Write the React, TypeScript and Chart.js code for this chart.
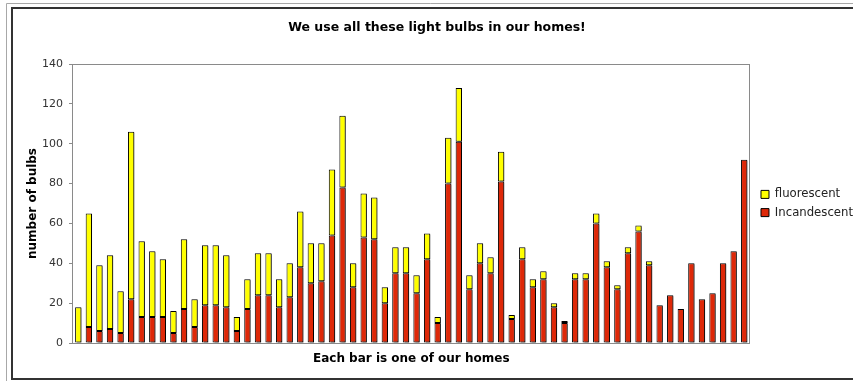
import React, { useEffect, useRef } from "react";
import { Chart, registerables } from "chart.js";

Chart.register(...registerables);

const homes: string[] = Array.from({ length: 64 }, (_, i) => String(i + 1));

const incandescent: number[] = [
  0, 8, 6, 7, 5, 22, 13, 13, 13, 5, 17, 8, 19, 19, 18, 6,
  17, 24, 24, 18, 23, 38, 30, 31, 54, 78, 28, 53, 52, 20, 35, 35,
  25, 42, 10, 80, 101, 27, 40, 35, 81, 12, 42, 28, 32, 18, 10, 32,
  32, 60, 38, 27, 45, 56, 39, 19, 24, 17, 40, 22, 25, 40, 46, 92,
];

const fluorescent: number[] = [
  18, 57, 33, 37, 21, 84, 38, 33, 29, 11, 35, 14, 30, 30, 26, 7,
  15, 21, 21, 14, 17, 28, 20, 19, 33, 36, 12, 22, 21, 8, 13, 13,
  9, 13, 3, 23, 27, 7, 10, 8, 15, 2, 6, 4, 4, 2, 1, 3,
  3, 5, 3, 2, 3, 3, 2, 0, 0, 0, 0, 0, 0, 0, 0, 0,
];

const yTicks: number[] = [0, 20, 40, 60, 80, 100, 120, 140];

const TITLE = "We use all these light bulbs in our homes!";
const X_TITLE = "Each bar is one of our homes";
const Y_TITLE = "number of bulbs";

const FONT = "'DejaVu Sans', Verdana, sans-serif";
const RED = "#DE2808";
const YELLOW = "#FFFF00";

export default function App() {
  const ref = useRef<HTMLCanvasElement | null>(null);

  useEffect(() => {
    document.body.style.margin = "0";
    const canvas = ref.current;
    if (!canvas) return;

    const framePlugin = {
      id: "frame",
      afterLayout(chart: any) {
        if (chart.legend) {
          chart.legend.left += 5;
          chart.legend.right += 5;
        }
      },
      beforeDraw(chart: any) {
        const ctx = chart.ctx;
        ctx.save();
        ctx.fillStyle = "#ffffff";
        ctx.fillRect(0, 0, chart.width, chart.height);
        ctx.strokeStyle = "#a8a8a8";
        ctx.lineWidth = 1;
        ctx.beginPath();
        ctx.moveTo(6.5, chart.height + 5);
        ctx.lineTo(6.5, 3.5);
        ctx.lineTo(chart.width + 5, 3.5);
        ctx.stroke();
        ctx.strokeStyle = "#333333";
        ctx.lineWidth = 2;
        ctx.beginPath();
        ctx.moveTo(chart.width + 5, 8);
        ctx.lineTo(12, 8);
        ctx.lineTo(12, 379);
        ctx.lineTo(chart.width + 5, 379);
        ctx.stroke();
        ctx.restore();
      },
      beforeDatasetsDraw(chart: any) {
        const { ctx, chartArea } = chart;
        ctx.save();
        ctx.strokeStyle = "#8a8a8a";
        ctx.lineWidth = 1;
        ctx.strokeRect(
          Math.round(chartArea.left) - 0.5,
          Math.round(chartArea.top) + 0.5,
          Math.round(chartArea.right - chartArea.left) + 1,
          Math.round(chartArea.bottom - chartArea.top)
        );
        ctx.restore();
      },
    };

    const shadowPlugin = {
      id: "barShadow",
      beforeDatasetsDraw(chart: any) {
        const ctx = chart.ctx;
        ctx.save();
        ctx.shadowColor = "rgba(0,0,0,0.45)";
        ctx.shadowOffsetX = 2;
        ctx.shadowOffsetY = 1;
        ctx.shadowBlur = 0;
      },
      afterDatasetsDraw(chart: any) {
        chart.ctx.restore();
      },
    };

    const chart = new Chart(canvas, {
      type: "bar",
      data: {
        labels: homes,
        datasets: [
          {
            label: "Incandescent",
            data: incandescent,
            backgroundColor: RED,
            borderColor: "#000000",
            borderWidth: 1,
            borderSkipped: false,
          },
          {
            label: "fluorescent",
            data: fluorescent,
            backgroundColor: YELLOW,
            borderColor: "#000000",
            borderWidth: 1,
            borderSkipped: false,
          },
        ],
      },
      options: {
        responsive: false,
        animation: false,
        layout: { padding: { left: 16, right: -5, top: 0, bottom: 0 } },
        datasets: {
          bar: { categoryPercentage: 1, barPercentage: 0.6 },
        },
        plugins: {
          title: {
            display: true,
            text: TITLE,
            color: "#000000",
            font: { family: FONT, size: 12.5, weight: "bold" },
            padding: { top: 20.5, bottom: 28.5 },
          },
          legend: {
            position: "right",
            fullSize: false,
            reverse: true,
            labels: {
              boxWidth: 8,
              boxHeight: 8,
              padding: 6.5,
              color: "#222222",
              font: { family: FONT, size: 11.7 },
            },
          },
          tooltip: { enabled: false },
        },
        scales: {
          x: {
            stacked: true,
            grid: { display: false, drawTicks: false, tickLength: 0 },
            border: { display: false },
            ticks: { display: false },
            title: {
              display: true,
              text: X_TITLE,
              color: "#000000",
              font: { family: FONT, size: 12, weight: "bold" },
              padding: { top: 8.8, bottom: 14.8 },
            },
          },
          y: {
            stacked: true,
            min: 0,
            max: 140,
            afterBuildTicks: (scale: any) => {
              scale.ticks = yTicks.map((v) => ({ value: v }));
            },
            afterFit: (scale: any) => {
              scale.width = 57;
            },
            ticks: {
              padding: 6,
              color: "#333333",
              font: { family: FONT, size: 11 },
            },
            grid: {
              drawOnChartArea: false,
              drawTicks: true,
              tickLength: 4,
              color: "#8a8a8a",
            },
            border: { display: false },
            title: {
              display: true,
              text: Y_TITLE,
              color: "#000000",
              font: { family: FONT, size: 12, weight: "bold" },
              padding: { top: 9.5, bottom: 0 },
            },
          },
        },
      },
      plugins: [framePlugin, shadowPlugin],
    } as any);

    return () => chart.destroy();
  }, []);

  return (
    <div style={{ width: 853, height: 381 }}>
      <canvas ref={ref} width={853} height={381} style={{ display: "block" }} />
    </div>
  );
}
